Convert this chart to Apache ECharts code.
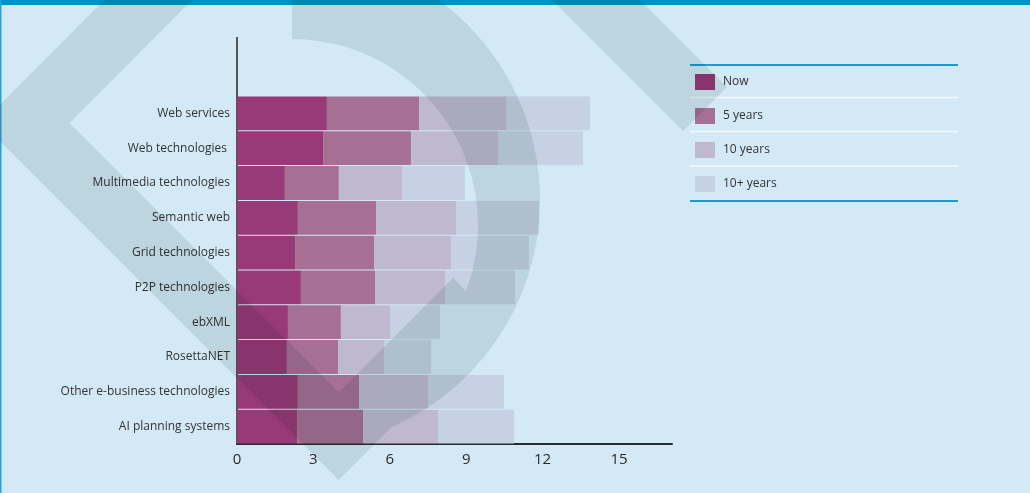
<!DOCTYPE html>
<html>
<head>
<meta charset="utf-8">
<script src="https://cdn.jsdelivr.net/npm/echarts@6/dist/echarts.min.js"></script>
<style>
  html, body { margin: 0; padding: 0; background: #d3e9f6; }
  #chart { width: 1030px; height: 493px; }
</style>
</head>
<body>
<div id="chart"></div>
<script>
// Technologies, listed top to bottom
const categories = [
  'Web services',
  'Web technologies ',
  'Multimedia technologies',
  'Semantic web',
  'Grid technologies',
  'P2P technologies',
  'ebXML',
  'RosettaNET',
  'Other e-business technologies',
  'AI planning systems'
];

const seriesNames = ['Now', '5 years', '10 years', '10+ years'];

// Stacked segments per time horizon
const nowValues       = [3.53, 3.38, 1.88, 2.39, 2.28, 2.51, 2.00, 1.96, 2.39, 2.36];
const fiveYearValues  = [3.62, 3.45, 2.12, 3.07, 3.10, 2.91, 2.08, 2.01, 2.40, 2.59];
const tenYearValues   = [3.41, 3.42, 2.48, 3.14, 3.02, 2.75, 1.93, 1.80, 2.71, 2.94];
const beyondTenValues = [3.30, 3.33, 2.47, 3.26, 3.06, 2.74, 1.96, 1.85, 2.98, 2.99];

// Value axis ticks
const xTickStep = 3;
const xAxisMax = 17.08;

const seriesColors = ['#983a77', '#a67094', '#bfb9d0', '#c6d1e3'];
const FONT = '"Open Sans", "Noto Sans", sans-serif';

const W = 1030, H = 493;
const GRID = { left: 237, right: 358, top: 96, bottom: 49 };
const AXIS_TOP = 37;

// Background logo: drawn once as a single opaque shape, then multiplied over the chart
function buildLogo() {
  const cv = document.createElement('canvas');
  cv.width = W; cv.height = H;
  const g = cv.getContext('2d');
  const tint = '#e3e9e8';
  g.strokeStyle = tint;
  g.fillStyle = tint;
  g.lineWidth = 62;
  g.lineJoin = 'miter';
  g.lineCap = 'butt';
  // diamond outline arms
  g.beginPath();
  g.moveTo(705, 109);
  g.lineTo(372, -224);
  g.lineTo(25.5, 123);
  g.lineTo(338.75, 436.25);
  g.lineTo(475, 300);
  g.stroke();
  // curved "D" band
  const a0 = -Math.PI / 2, a1 = 70 * Math.PI / 180;
  g.beginPath();
  g.arc(292, 200, 248, a0, a1, false);
  g.arc(292, 225, 186, a1, a0, true);
  g.closePath();
  g.fill();
  return cv;
}

const valueLists = [nowValues, fiveYearValues, tenYearValues, beyondTenValues];

const series = seriesNames.map((name, i) => ({
  name,
  type: 'bar',
  stack: 'total',
  barCategoryGap: '3%',
  data: valueLists[i],
  itemStyle: { color: seriesColors[i] },
  emphasis: { disabled: true },
  animation: false
}));

// Legend frame lines
const legendX0 = 690, legendX1 = 958;
const legendRules = [
  { y: 65, color: '#1d9bd1', w: 2 },
  { y: 97.5, color: '#f4fafd', w: 1.5 },
  { y: 131.5, color: '#f4fafd', w: 1.5 },
  { y: 166, color: '#f4fafd', w: 1.5 },
  { y: 201, color: '#1d9bd1', w: 2 }
].map(r => ({
  type: 'line',
  silent: true,
  z: 5,
  shape: { x1: legendX0, y1: r.y, x2: legendX1, y2: r.y },
  style: { stroke: r.color, lineWidth: r.w }
}));

const chart = echarts.init(document.getElementById('chart'), null, { renderer: 'canvas', width: W, height: H });

chart.setOption({
  backgroundColor: '#d3e9f6',
  animation: false,
  textStyle: { fontFamily: FONT },
  grid: { left: GRID.left, right: GRID.right, top: GRID.top, bottom: GRID.bottom, containLabel: false },
  xAxis: {
    type: 'value',
    min: 0,
    max: xAxisMax,
    interval: xTickStep,
    axisLine: { show: true, lineStyle: { color: '#2a2a2a', width: 2 } },
    axisTick: { show: false },
    splitLine: { show: false },
    axisLabel: {
      showMaxLabel: false,
      margin: 8,
      fontFamily: FONT,
      fontSize: 15,
      color: '#2a2a2a'
    }
  },
  yAxis: {
    type: 'category',
    inverse: true,
    data: categories,
    axisLine: { show: true, lineStyle: { color: '#555', width: 2 } },
    axisTick: { show: false },
    axisLabel: {
      margin: 7,
      fontFamily: FONT,
      fontSize: 12,
      color: '#333'
    }
  },
  legend: {
    orient: 'vertical',
    left: 695,
    top: 74,
    padding: 0,
    itemWidth: 20,
    itemHeight: 16,
    itemGap: 18,
    icon: 'rect',
    selectedMode: false,
    data: seriesNames,
    textStyle: { fontFamily: FONT, fontSize: 12, color: '#333', padding: [0, 0, 0, 3] }
  },
  graphic: [
    {
      type: 'rect', silent: true, z: 1,
      shape: { x: 0, y: 0, width: W, height: 5 },
      style: { fill: '#0090c6' }
    },
    {
      type: 'rect', silent: true, z: 1,
      shape: { x: 0, y: 0, width: 1.5, height: H },
      style: { fill: '#2a9fd6' }
    },
    {
      type: 'line', silent: true, z: 5,
      shape: { x1: GRID.left, y1: AXIS_TOP, x2: GRID.left, y2: GRID.top + 1 },
      style: { stroke: '#555', lineWidth: 2 }
    },
    ...legendRules,
    {
      type: 'image', silent: true, z: 100,
      left: 0, top: 0,
      style: { image: buildLogo(), x: 0, y: 0, width: W, height: H, blend: 'multiply' }
    }
  ],
  series
});
</script>
</body>
</html>
